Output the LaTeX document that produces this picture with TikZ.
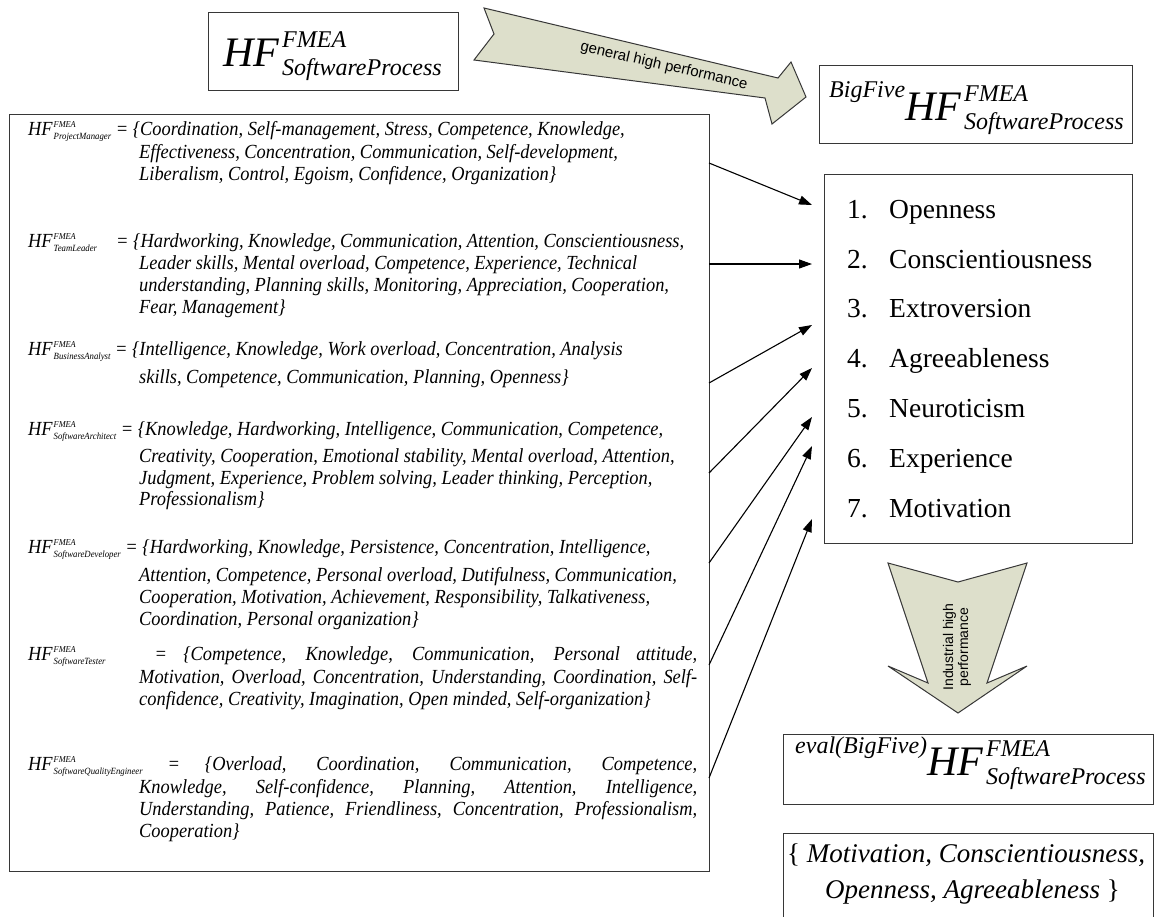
\documentclass[tikz,border=0pt]{standalone}
\usepackage{fontspec}
\setmainfont{Liberation Serif}
\newfontfamily\rolefont[FakeStretch=0.92]{Liberation Serif}
\newfontfamily\labelsans{Liberation Sans}
\usetikzlibrary{arrows.meta}

\definecolor{arrowfill}{RGB}{221,223,203}
\definecolor{edge}{RGB}{55,55,55}

% HF symbol with the FMEA index, as used inside the role list
\newcommand{\rolehf}[1]{HF\kern1pt\rlap{\raisebox{8pt}{\fontsize{9}{9}\selectfont FMEA}}\raisebox{-4.5pt}{\fontsize{9.5}{9.5}\selectfont #1}}
% large HF symbol of the software process
\newcommand{\processhf}{{\fontsize{42}{42}\selectfont HF}\kern3pt\rlap{\raisebox{19pt}{FMEA}}\raisebox{-9pt}{SoftwareProcess}}

\tikzset{
  box/.style={draw=edge, line width=1.3pt, inner sep=0pt, anchor=north west},
  bigarrow/.style={draw=edge, line width=1pt, fill=arrowfill, line join=miter},
  link/.style={draw=black, line width=1.1pt, -{Triangle[length=13pt,width=9pt]}},
  roletext/.style={anchor=base west, inner sep=0pt, font=\rolefont\fontsize{20}{22}\selectfont\itshape},
  hftext/.style={anchor=base west, inner sep=0pt, font=\fontsize{24}{24}\selectfont\itshape},
  itemtext/.style={anchor=base west, inner sep=0pt, font=\fontsize{27.5}{30}\selectfont},
  settext/.style={anchor=base west, inner sep=0pt, font=\fontsize{27}{30}\selectfont},
  arrowlabel/.style={inner sep=0pt, align=center, font=\labelsans\fontsize{14}{15}\selectfont}
}

\begin{document}
\begin{tikzpicture}[x=1pt, y=-1pt]
\useasboundingbox (0,0) rectangle (1155,916);
\clip (0,0) rectangle (1155,916);

% ---------- boxes ----------
\node[box, minimum width=250pt, minimum height=78pt] (proc) at (208,12) {};
\node[box, minimum width=313pt, minimum height=78pt] (bigfive) at (819,65) {};
\node[box, minimum width=700pt, minimum height=757pt] (roles) at (9,114) {};
\node[box, minimum width=308pt, minimum height=369pt] (traits) at (824,174) {};
\node[box, minimum width=370pt, minimum height=70pt] (evalbox) at (783,734) {};
\node[box, minimum width=370pt, minimum height=110pt] (setbox) at (783,833) {};

% ---------- HF symbols ----------
\node[hftext] (proctxt) at (223,66) {\processhf};
\node[hftext] (bigfivetxt) at (829,120) {\raisebox{23pt}{BigFive}\processhf};
\node[hftext] (evaltxt) at (795,775) {\raisebox{22pt}{eval(BigFive)}\processhf};

% ---------- role factor sets ----------
\node[roletext] (pm1) at (28,135) {\rolehf{ProjectManager} = \{Coordination, Self-management, Stress, Competence, Knowledge,};
\node[roletext] (pm2) at (139,158) {Effectiveness, Concentration, Communication, Self-development,};
\node[roletext] (pm3) at (139,180) {Liberalism, Control, Egoism, Confidence, Organization\}};

\node[roletext] (tl1) at (28,247) {\makebox[88pt][l]{\rolehf{TeamLeader}}= \{Hardworking, Knowledge, Communication, Attention, Conscientiousness,};
\node[roletext] (tl2) at (139,269) {Leader skills, Mental overload, Competence, Experience, Technical};
\node[roletext] (tl3) at (139,291) {understanding, Planning skills, Monitoring, Appreciation, Cooperation,};
\node[roletext] (tl4) at (139,313) {Fear, Management\}};

\node[roletext] (ba1) at (28,355) {\rolehf{BusinessAnalyst} = \{Intelligence, Knowledge, Work overload, Concentration, Analysis};
\node[roletext] (ba2) at (139,383) {skills, Competence, Communication, Planning, Openness\}};

\node[roletext] (sa1) at (28,435) {\rolehf{SoftwareArchitect} = \{Knowledge, Hardworking, Intelligence, Communication, Competence,};
\node[roletext] (sa2) at (139,462) {Creativity, Cooperation, Emotional stability, Mental overload, Attention,};
\node[roletext] (sa3) at (139,484) {Judgment, Experience, Problem solving, Leader thinking, Perception,};
\node[roletext] (sa4) at (139,505) {Professionalism\}};

\node[roletext] (dv1) at (28,553) {\rolehf{SoftwareDeveloper} = \{Hardworking, Knowledge, Persistence, Concentration, Intelligence,};
\node[roletext] (dv2) at (139,581) {Attention, Competence, Personal overload, Dutifulness, Communication,};
\node[roletext] (dv3) at (139,603) {Cooperation, Motivation, Achievement, Responsibility, Talkativeness,};
\node[roletext] (dv4) at (139,625) {Coordination, Personal organization\}};

\node[roletext] (ts1) at (28,660) {\makebox[669pt][s]{\rolehf{SoftwareTester} \ \ = \{Competence, Knowledge, Communication, Personal attitude,}};
\node[roletext] (ts2) at (139,683) {\makebox[558pt][s]{Motivation, Overload, Concentration, Understanding, Coordination, Self-}};
\node[roletext] (ts3) at (139,705) {confidence, Creativity, Imagination, Open minded, Self-organization\}};

\node[roletext] (qe1) at (28,770) {\makebox[669pt][s]{\rolehf{SoftwareQualityEngineer} = \{Overload, Coordination, Communication, Competence,}};
\node[roletext] (qe2) at (139,793) {\makebox[558pt][s]{Knowledge, Self-confidence, Planning, Attention, Intelligence,}};
\node[roletext] (qe3) at (139,815) {\makebox[558pt][s]{Understanding, Patience, Friendliness, Concentration, Professionalism,}};
\node[roletext] (qe4) at (139,837) {Cooperation\}};

% ---------- Big Five traits ----------
\node[itemtext] (t1) at (847,218) {\makebox[42pt][l]{1.}Openness};
\node[itemtext] (t2) at (847,268) {\makebox[42pt][l]{2.}Conscientiousness};
\node[itemtext] (t3) at (847,317) {\makebox[42pt][l]{3.}Extroversion};
\node[itemtext] (t4) at (847,367) {\makebox[42pt][l]{4.}Agreeableness};
\node[itemtext] (t5) at (847,417) {\makebox[42pt][l]{5.}Neuroticism};
\node[itemtext] (t6) at (847,467) {\makebox[42pt][l]{6.}Experience};
\node[itemtext] (t7) at (847,517) {\makebox[42pt][l]{7.}Motivation};

% ---------- selected factors ----------
\node[settext] (set1) at (787,862) {\{ \textit{Motivation, Conscientiousness,}};
\node[settext] (set2) at (825,898) {\textit{Openness, Agreeableness} \}};

% ---------- links from the roles to the traits ----------
\coordinate (s1) at (709,163); \coordinate (e1) at (812,205);
\coordinate (s2) at (709,264); \coordinate (e2) at (812,264);
\coordinate (s3) at (709,383); \coordinate (e3) at (812,325);
\coordinate (s4) at (709,473); \coordinate (e4) at (812,368);
\coordinate (s5) at (709,563); \coordinate (e5) at (812,417);
\coordinate (s6) at (709,665); \coordinate (e6) at (812,446);
\coordinate (s7) at (709,778); \coordinate (e7) at (812,519);
\foreach \i in {1,...,7} { \draw[link] (s\i) -- (e\i); }

% ---------- block arrows ----------
\draw[bigarrow] (484,8) -- (778,78) -- (791,62) -- (806,97) -- (772,124)
  -- (765,98) -- (474,60) -- (494,34) -- cycle;
\node[arrowlabel, rotate=-13, font=\labelsans\fontsize{15}{16}\selectfont] (general) at (664,66) {general high performance};

\draw[bigarrow] (888,563) -- (958,582) -- (1027,563) -- (987,683) -- (1027,666)
  -- (958,713) -- (888,666) -- (928,683) -- cycle;
\node[arrowlabel, rotate=90] (industrial) at (957,647) {Industrial high\\performance};

\end{tikzpicture}
\end{document}
